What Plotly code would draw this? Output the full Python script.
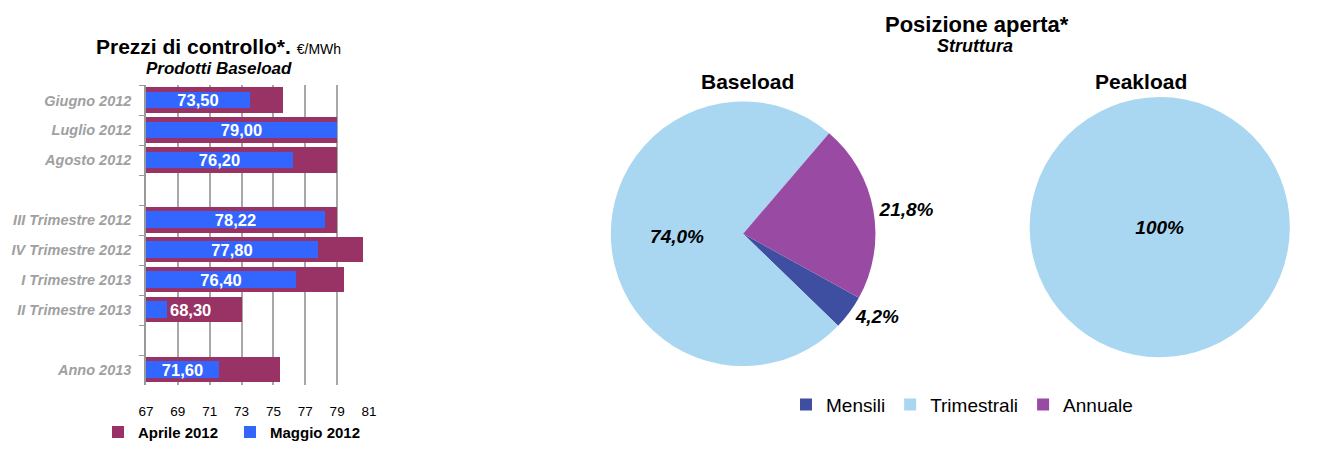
import plotly.graph_objects as go

# ---------------- data ----------------
categories = ["Giugno 2012", "Luglio 2012", "Agosto 2012", " ",
              "III Trimestre 2012", "IV Trimestre 2012", "I Trimestre 2013",
              "II Trimestre 2013", "  ", "Anno 2013"]
aprile_2012 = [75.6, 79.0, 79.0, None, 79.0, 80.6, 79.4, 73.0, None, 75.4]
maggio_2012 = [73.50, 79.00, 76.20, None, 78.22, 77.80, 76.40, 68.30, None, 71.60]
x_ticks = [67, 69, 71, 73, 75, 77, 79, 81]

pie_labels = ["Mensili", "Trimestrali", "Annuale"]
baseload_share = [4.2, 74.0, 21.8]
peakload_labels = ["Trimestrali"]
peakload_share = [100.0]

# ---------------- style ----------------
FONT = "Liberation Sans, Arial, sans-serif"
C_APR = "#993366"
C_MAG = "#3366FF"
PIE_COLORS = ["#3E4EA0", "#A9D6F0", "#994AA3"]
BASE = x_ticks[0]


def fmt(v):
    return "" if v is None else f"{v:.2f}".replace(".", ",")


def length(v):
    return None if v is None else v - BASE


fig = go.Figure()

fig.add_trace(go.Bar(
    y=categories, x=[length(v) for v in aprile_2012], base=BASE,
    orientation="h", name="Aprile 2012", marker=dict(color=C_APR, line=dict(width=0)),
    width=0.85, legend="legend", hoverinfo="skip"))
fig.add_trace(go.Bar(
    y=categories, x=[length(v) for v in maggio_2012], base=BASE,
    orientation="h", name="Maggio 2012", marker=dict(color=C_MAG, line=dict(width=0)),
    width=0.56, text=[fmt(v) for v in maggio_2012],
    textposition=["outside" if (v is not None and v - BASE < 3) else "inside" for v in maggio_2012],
    insidetextanchor="middle", textangle=0, cliponaxis=False,
    textfont=dict(family=FONT, size=16.5, color="white", weight="bold"),
    legend="legend3", hoverinfo="skip"))

fig.add_trace(go.Pie(
    labels=pie_labels, values=baseload_share, sort=False, direction="clockwise",
    rotation=119, marker=dict(colors=PIE_COLORS, line=dict(width=0)),
    texttemplate="%{percent:.1%}", textposition=["outside", "inside", "outside"],
    textfont=dict(family=FONT, size=19, color="black", style="italic", weight="bold"),
    domain=dict(x=[0.39, 0.725], y=[0.17, 0.77]), legend="legend2", showlegend=True,
    hoverinfo="skip"))
fig.add_trace(go.Pie(
    labels=peakload_labels, values=peakload_share, sort=False,
    marker=dict(colors=[PIE_COLORS[1]], line=dict(width=0)),
    texttemplate="%{percent:.0%}", textposition="inside",
    textfont=dict(family=FONT, size=19, color="black", style="italic", weight="bold"),
    domain=dict(x=[0.77, 0.97], y=[0.19, 0.78]), showlegend=False, hoverinfo="skip"))

W, H = 1333, 449


def px(x):
    return x / W


def py(y):
    return 1 - y / H


bar_legend = dict(orientation="h", y=py(440), xanchor="left", yanchor="middle",
                  itemwidth=30, font=dict(size=15, weight="bold"), bgcolor="rgba(0,0,0,0)")

fig.update_layout(
    width=W, height=H, margin=dict(l=0, r=0, t=0, b=0),
    paper_bgcolor="white", plot_bgcolor="white",
    separators=",.", barmode="overlay", bargap=0,
    font=dict(family=FONT, color="black"),
    uniformtext=dict(minsize=16, mode="show"),
    xaxis=dict(domain=[px(146), px(369)], range=[67, 81], tickvals=x_ticks,
               automargin=False,
               showgrid=True, gridcolor="#A8A8A8", gridwidth=1.5, zeroline=False,
               showline=False, ticks="outside", ticklen=14, tickcolor="rgba(0,0,0,0)",
               tickfont=dict(size=13.5, color="black")),
    yaxis=dict(domain=[py(392), py(87)], autorange="reversed", type="category",
               automargin=False,
               tickson="boundaries", ticks="outside", ticklen=5, tickcolor="#999999",
               showline=True, linecolor="#999999", linewidth=1.5, showgrid=False,
               ticklabelstandoff=10,
               tickfont=dict(size=14.5, color="#A0A0A0", style="italic", weight="bold")),
    legend=dict(bar_legend, x=px(98)),
    legend3=dict(bar_legend, x=px(230)),
    legend2=dict(orientation="h", x=px(962), y=py(412), xanchor="center", yanchor="middle",
                 font=dict(size=19), bgcolor="rgba(0,0,0,0)", itemwidth=30),
    showlegend=True,
)

annotations = [
    dict(text="<b>Prezzi di controllo*.</b> <span style='font-size:14px'>€/MWh</span>",
         x=px(218), y=py(47), font=dict(size=21)),
    dict(text="<b><i>Prodotti Baseload</i></b>", x=px(219), y=py(70), font=dict(size=17)),
    dict(text="<b>Posizione aperta*</b>", x=px(977), y=py(25), font=dict(size=22)),
    dict(text="<b><i>Struttura</i></b>", x=px(975), y=py(47), font=dict(size=18)),
    dict(text="<b>Baseload</b>", x=px(747), y=py(83), font=dict(size=21)),
    dict(text="<b>Peakload</b>", x=px(1141), y=py(83), font=dict(size=21)),
]
for a in annotations:
    a.update(xref="paper", yref="paper", showarrow=False, xanchor="center", yanchor="middle")
fig.update_layout(annotations=annotations)

fig.write_html("out.html")
